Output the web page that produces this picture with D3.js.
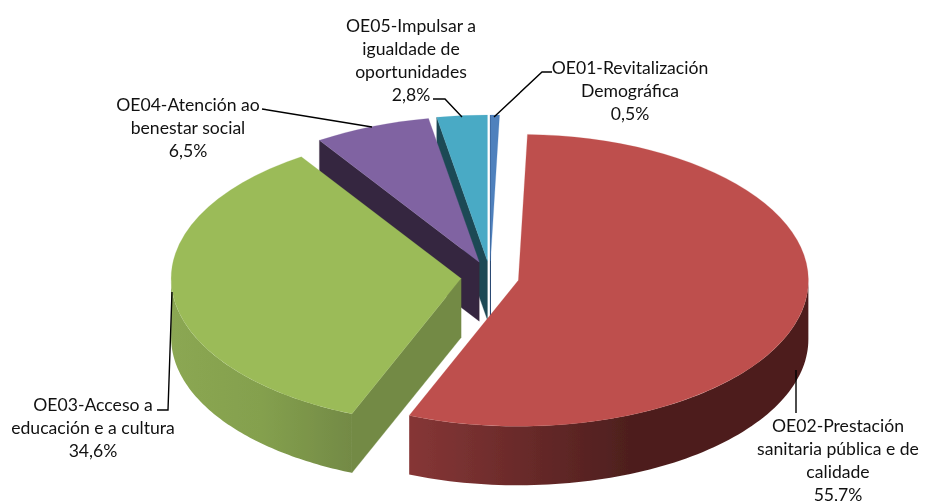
<!DOCTYPE html>
<html><head><meta charset="utf-8">
<script src="https://cdn.jsdelivr.net/npm/d3@7/dist/d3.min.js"></script>
<style>html,body{margin:0;padding:0;background:#fff}svg{display:block}
text{font-family:Lato,"Open Sans",sans-serif;font-size:17.6px;fill:#111}</style>
</head><body><svg id="c" width="933" height="501"></svg>
<script>
const categories = ["OE01-Revitalización Demográfica","OE02-Prestación sanitaria pública e de calidade","OE03-Acceso a educación e a cultura","OE04-Atención ao benestar social","OE05-Impulsar a igualdade de oportunidades"];
const values = [0.5,55.7,34.6,6.5,2.8];
const labelLines = [
  ["OE01-Revitalización","Demográfica"],
  ["OE02-Prestación","sanitaria pública e de","calidade"],
  ["OE03-Acceso a","educación e a cultura"],
  ["OE04-Atención ao","benestar social"],
  ["OE05-Impulsar a","igualdade de","oportunidades"]
];
const topColors = ["#4F81BD","#BE504D","#9BBB59","#8064A2","#4AAAC5"];
const edgeColors = ["#2A4A73","#7A2F2E","#738A45","#35273F","#1F4A55"];
const wallStops = [
  [],
  [[0,"#863636"],[0.55,"#4E1F1E"],[1,"#4E1F1E"]],
  [[0,"#8BA752"],[0.5,"#84A04E"],[1,"#738A45"]],
  [],[]
];
// layout: [centre x, first-line y, leader polyline]
const labelLayout = [
  {x:630,y:67,lead:[[552,72],[542,72],[494,117]]},
  {x:838,y:425.5,lead:[[796,370],[796,413]]},
  {x:93,y:404,lead:[[157,410],[168,410],[172,292]]},
  {x:188,y:104,lead:[[262,109],[372,127]]},
  {x:411,y:25,lead:[[433,99],[445,99],[462,117]]}
];
const base = {x:490,y:277}, rx = 290, ry = 146, depth = 59, explode = 29, explodeYRatio = 0.55, lineStep = 23;

const svg = d3.select("#c");
const defs = svg.append("defs");
const blur = defs.append("filter").attr("id","soft").attr("x","-5%").attr("y","-5%").attr("width","110%").attr("height","110%");
blur.append("feGaussianBlur").attr("stdDeviation",0.45);
const pie = d3.pie().sort(null).startAngle(0).endAngle(2*Math.PI);
const arcs = pie(values);
const arcGen = d3.arc().innerRadius(0).outerRadius(rx);
const g = svg.append("g").attr("filter","url(#soft)");

function centre(a){
  const m=(a.startAngle+a.endAngle)/2;
  return {x:base.x+explode*Math.sin(m), y:base.y-explode*explodeYRatio*Math.cos(m)};
}
const rim=(c,t)=>[c.x+rx*Math.sin(t), c.y-ry*Math.cos(t)];
const line=d3.line();

// draw back slices first, the big front ones last
[4,0,3,2,1].forEach(i=>{
  const a=arcs[i], c=centre(a), s=g.append("g");
  // start edge cut wall
  if(Math.sin(a.startAngle)<0.001){
    const p=rim(c,a.startAngle);
    s.append("path").attr("fill",edgeColors[i]).attr("stroke",edgeColors[i]).attr("stroke-width",i===0?1:0.3)
      .attr("d",line([[c.x,c.y],p,[p[0],p[1]+depth],[c.x,c.y+depth]])+"Z");
  }
  // end edge cut wall (skip edges nearly in line with the view)
  if(Math.sin(a.endAngle)>0.2){
    const p=rim(c,a.endAngle);
    s.append("path").attr("fill",edgeColors[i]).attr("stroke",edgeColors[i]).attr("stroke-width",0.3)
      .attr("d",line([[c.x,c.y],p,[p[0],p[1]+depth],[c.x,c.y+depth]])+"Z");
  }
  // outer wall: the part of the rim that faces the viewer
  const t0=Math.max(a.startAngle,Math.PI/2), t1=Math.min(a.endAngle,3*Math.PI/2);
  if(t1>t0){
    const n=80, ang=d3.range(n+1).map(k=>t0+(t1-t0)*k/n);
    const topPts=ang.map(t=>rim(c,t));
    const botPts=ang.map(t=>{const p=rim(c,t);return [p[0],p[1]+depth];}).reverse();
    const xs=topPts.map(p=>p[0]);
    const gid="w"+i;
    const lg=defs.append("linearGradient").attr("id",gid).attr("gradientUnits","userSpaceOnUse")
      .attr("x1",d3.min(xs)).attr("x2",d3.max(xs)).attr("y1",0).attr("y2",0);
    wallStops[i].forEach(st=>lg.append("stop").attr("offset",st[0]).attr("stop-color",st[1]));
    s.append("path").attr("fill",`url(#${gid})`).attr("d",line(topPts.concat(botPts))+"Z");
  }
  // top face
  s.append("path").attr("fill",topColors[i]).attr("stroke",topColors[i]).attr("stroke-width",0.3)
    .attr("transform",`translate(${c.x},${c.y}) scale(1,${ry/rx})`).attr("d",arcGen(a));
});

// leaders
labelLayout.forEach(l=>{
  svg.append("path").attr("d",line(l.lead)).attr("fill","none").attr("stroke","#000").attr("stroke-width",1.4);
});
// labels
const pct=d=>d3.format(".1f")(d).replace(".",",")+"%";
labelLayout.forEach((l,i)=>{
  const t=svg.append("text").attr("text-anchor","middle");
  labelLines[i].concat([pct(values[i])]).forEach((s,k)=>{
    t.append("tspan").attr("x",l.x).attr("y",l.y+k*lineStep).attr("dominant-baseline","central").text(s);
  });
});
</script></body></html>
